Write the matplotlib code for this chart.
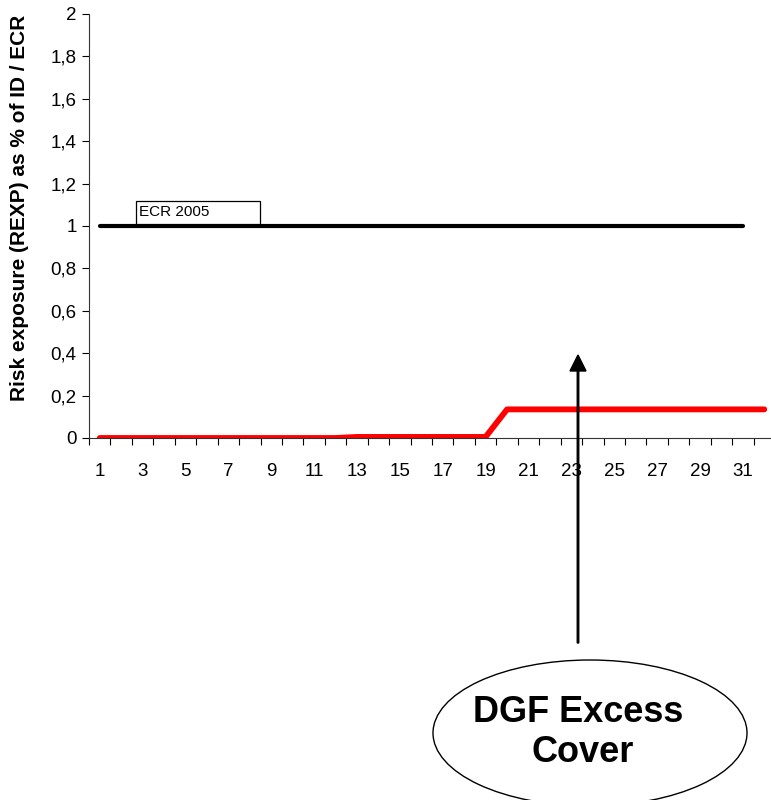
import matplotlib
matplotlib.use('Agg')
import matplotlib.pyplot as plt
from matplotlib.patches import Ellipse, FancyArrow, Rectangle
from matplotlib.ticker import FixedLocator, FuncFormatter

plt.rcParams['font.family'] = ['Liberation Sans', 'DejaVu Sans']

# data
periods = list(range(1, 33))
ecr_level = [1.0] * 31
dgf_cover = [0.0] * 12 + [0.005] * 7 + [0.135] * 13
y_ticks = [0, 0.2, 0.4, 0.6, 0.8, 1.0, 1.2, 1.4, 1.6, 1.8, 2.0]
x_labels = list(range(1, 32, 2))

W, H = 771, 800
fig = plt.figure(figsize=(W / 100, H / 100), dpi=100)
ax = fig.add_axes([89 / W, 1 - 438 / H, (775 - 89) / W, (438 - 14) / H])

ax.plot(periods[:31], ecr_level, color='black', lw=3, solid_capstyle='round')
ax.plot(periods, dgf_cover, color='#ff0000', lw=4.2, solid_capstyle='round')

ax.set_xlim(0.5, 32.5)
ax.set_ylim(0, 2)
ax.spines['top'].set_visible(False)
ax.spines['right'].set_visible(False)
for s in ('left', 'bottom'):
    ax.spines[s].set_linewidth(0.8)
    ax.spines[s].set_color('#333333')

ax.set_yticks(y_ticks)
ax.yaxis.set_major_formatter(FuncFormatter(lambda v, p: ('%g' % v).replace('.', ',')))
ax.tick_params(axis='y', labelsize=13.5, length=5, width=0.8, pad=4)

ax.xaxis.set_major_locator(FixedLocator([k + 0.5 for k in range(0, 33)]))
ax.xaxis.set_minor_locator(FixedLocator(x_labels))
ax.set_xticklabels([], minor=False)
ax.set_xticklabels([str(v) for v in x_labels], minor=True)
ax.tick_params(axis='x', which='major', length=5, width=0.8)
ax.tick_params(axis='x', which='minor', length=0, labelsize=13.5, pad=18)

ax.set_ylabel('Risk exposure (REXP) as % of ID / ECR', fontsize=15, fontweight='bold')
ax.yaxis.set_label_coords(-0.088, 0.543)

# overlay in pixel coordinates
ov = fig.add_axes([0, 0, 1, 1], facecolor='none')
ov.set_xlim(0, W)
ov.set_ylim(H, 0)
ov.axis('off')

ov.add_patch(Rectangle((136, 201), 124, 23, fc='white', ec='black', lw=0.9, zorder=1))
ov.text(139, 212.5, 'ECR 2005', fontsize=11, ha='left', va='center', zorder=2)

ov.add_patch(FancyArrow(578, 643, 0, -288, width=1.5, head_width=16, head_length=16,
                        length_includes_head=True, color='black'))
ov.add_patch(Ellipse((590, 733), 314, 146, fc='white', ec='black', lw=1))
ov.text(578, 713, 'DGF Excess', fontsize=26, fontweight='bold', ha='center', va='center')
ov.text(583, 753, 'Cover', fontsize=26, fontweight='bold', ha='center', va='center')

fig.savefig('out.png', dpi=100)
